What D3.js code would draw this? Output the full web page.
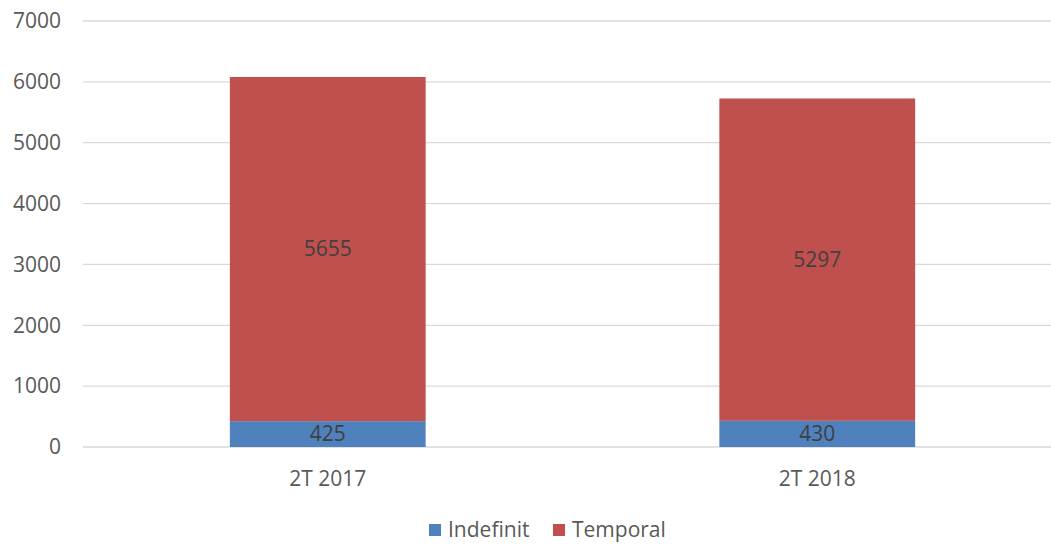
<!DOCTYPE html>
<html>
<head>
<meta charset="utf-8">
<script src="https://cdn.jsdelivr.net/npm/d3@7"></script>
<style>
  body { margin: 0; background: #fff; }
  text { font-family: "Open Sans", "Noto Sans", sans-serif; }
</style>
</head>
<body>
<div id="chart"></div>
<script>
var categories = ["2T 2017", "2T 2018"];
var indefinit = [425, 430];
var temporal = [5655, 5297];
var seriesNames = ["Indefinit", "Temporal"];
var seriesColors = ["#4F81BD", "#C0504D"];
var yTicks = [0, 1000, 2000, 3000, 4000, 5000, 6000, 7000];

var width = 1051, height = 545;
var fs = 21;

var svg = d3.select("#chart").append("svg")
    .attr("width", width)
    .attr("height", height);

var x = d3.scaleBand()
    .domain(categories)
    .range([83, 1062])
    .paddingInner(0.6)
    .paddingOuter(0.3);

var y = d3.scaleLinear()
    .domain([0, 7000])
    .range([447, 21]);

// gridlines
svg.append("g").selectAll("line")
    .data(yTicks)
    .enter().append("line")
    .attr("x1", 83)
    .attr("x2", width)
    .attr("y1", d => y(d))
    .attr("y2", d => y(d))
    .attr("stroke", "#D9D9D9")
    .attr("stroke-width", 1.3);

// y tick labels
svg.append("g").selectAll("text")
    .data(yTicks)
    .enter().append("text")
    .attr("x", 61)
    .attr("y", d => y(d))
    .attr("dy", "0.35em")
    .attr("text-anchor", "end")
    .attr("font-size", fs)
    .attr("fill", "#595959")
    .text(d => d);

var stacked = categories.map((c, i) => ({
    cat: c,
    segs: [
        {name: seriesNames[0], y0: 0, y1: indefinit[i], v: indefinit[i], color: seriesColors[0]},
        {name: seriesNames[1], y0: indefinit[i], y1: indefinit[i] + temporal[i], v: temporal[i], color: seriesColors[1]}
    ]
}));

var barG = svg.append("g").selectAll("g")
    .data(stacked)
    .enter().append("g");

barG.selectAll("rect")
    .data(d => d.segs.map(s => Object.assign({cat: d.cat}, s)))
    .enter().append("rect")
    .attr("x", d => x(d.cat))
    .attr("width", x.bandwidth())
    .attr("y", d => y(d.y1))
    .attr("height", d => y(d.y0) - y(d.y1))
    .attr("fill", d => d.color);

barG.selectAll("text")
    .data(d => d.segs.map(s => Object.assign({cat: d.cat}, s)))
    .enter().append("text")
    .attr("x", d => x(d.cat) + x.bandwidth() / 2)
    .attr("y", d => y((d.y0 + d.y1) / 2))
    .attr("dy", "0.35em")
    .attr("text-anchor", "middle")
    .attr("font-size", fs)
    .attr("fill", "#404040")
    .text(d => d.v);

// category labels
svg.append("g").selectAll("text")
    .data(categories)
    .enter().append("text")
    .attr("x", d => x(d) + x.bandwidth() / 2)
    .attr("y", 479)
    .attr("dy", "0.35em")
    .attr("text-anchor", "middle")
    .attr("font-size", fs)
    .attr("fill", "#595959")
    .text(d => d);

// legend
var legendX = [429, 553];
var leg = svg.append("g").selectAll("g")
    .data(seriesNames)
    .enter().append("g")
    .attr("transform", (d, i) => "translate(" + legendX[i] + ",530)");
leg.append("rect")
    .attr("x", 0)
    .attr("y", -6)
    .attr("width", 12)
    .attr("height", 12)
    .attr("fill", (d, i) => seriesColors[i]);
leg.append("text")
    .attr("x", 19)
    .attr("y", 0)
    .attr("dy", "0.35em")
    .attr("font-size", fs)
    .attr("fill", "#595959")
    .text(d => d);
</script>
</body>
</html>
